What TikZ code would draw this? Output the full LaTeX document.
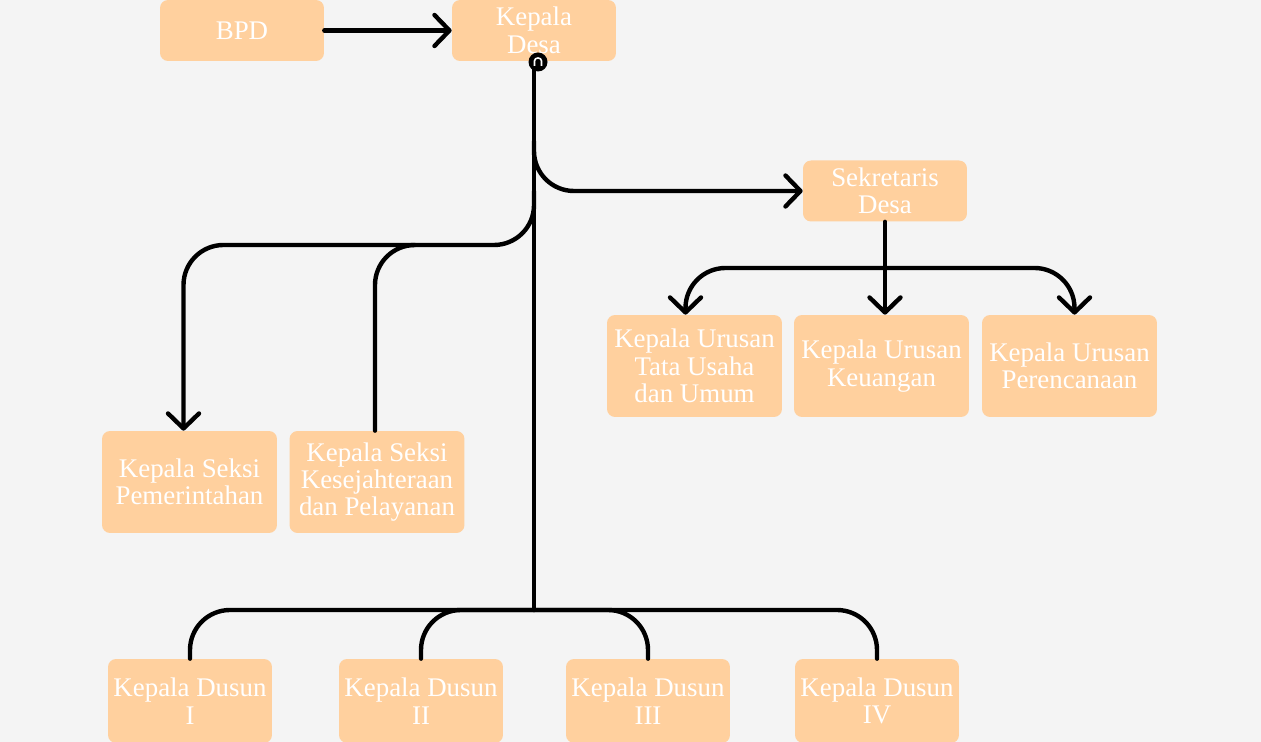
\documentclass[tikz,border=0pt]{standalone}
\usepackage{fontspec}
\setmainfont{Liberation Serif}
\usetikzlibrary{positioning, arrows.meta, calc}
\definecolor{bgcol}{HTML}{F4F4F4}
\definecolor{peach}{HTML}{FFD09E}

\begin{document}
\begin{tikzpicture}[x=0.02cm, y=-0.02cm,
    box/.style={fill=peach, rounded corners=0.16cm, text=white, align=center,
        font=\fontsize{15.3}{15.6}\selectfont, inner sep=0pt},
    smallbox/.style={box, minimum width=3.28cm, minimum height=1.22cm},
    bigbox/.style={box, minimum width=3.5cm, minimum height=2.04cm},
    dusunbox/.style={box, minimum width=3.28cm, minimum height=1.68cm},
    link/.style={line width=2.5pt, line cap=round, rounded corners=0.8cm},
    arr/.style={link, -{Straight Barb[length=0.3cm, width=0.62cm, round]}}
]
        % Background
        \fill[bgcol] (0,0) rectangle (1261,742);
        \useasboundingbox (0,0) rectangle (1261,742);

        % Top level
        \node[smallbox] (bpd) at (242,30.5) {BPD};
        \node[smallbox] (desa) at (534,30.5) {Kepala\\Desa};
        \node[smallbox] (sek) at (885,191) {Sekretaris\\Desa};

        % Kepala urusan
        \node[bigbox] (tata) at (694.5,366) {Kepala Urusan\\Tata Usaha\\dan Umum};
        \node[bigbox] (keu) at (881.5,366) {Kepala Urusan\\Keuangan};
        \node[bigbox] (ren) at (1069.5,366) {Kepala Urusan\\Perencanaan};

        % Kepala seksi
        \node[bigbox] (pem) at (189.5,482) {Kepala Seksi\\Pemerintahan};
        \node[bigbox] (kes) at (377,482) {Kepala Seksi\\Kesejahteraan\\dan Pelayanan};

        % Kepala dusun
        \node[dusunbox] (d1) at (190,701) {Kepala Dusun\\I};
        \node[dusunbox] (d2) at (421,701) {Kepala Dusun\\II};
        \node[dusunbox] (d3) at (648,701) {Kepala Dusun\\III};
        \node[dusunbox] (d4) at (877,701) {Kepala Dusun\\IV};

        \coordinate (hub) at (534,610);
        \coordinate (lbar) at (0,245);
        \coordinate (sbar) at (0,268);

        % Connectors
        \draw[arr] (bpd.east) -- (desa.west);
        \draw[link] (desa.south) -- (hub);
        \fill (538,62) circle (0.19cm);
        \draw[white, line width=0.9pt] (534.5,66) -- (534.5,61) .. controls (534.5,57) and (541.5,57) .. (541.5,61) -- (541.5,66);
        \draw[arr] ($(desa.south)+(0,80)$) |- (sek.west);
        \draw[arr] ($(desa.south)+(0,130)$) |- ($(pem.north |- lbar)+(-6,0)$) -- ($(pem.north)+(-6,0)$);
        \draw[link] ($(kes.north |- lbar)+(38,0)$) -| ($(kes.north)+(-2,0)$);

        \draw[arr] (sek.south) -- (sek.south |- keu.north);
        \draw[arr] (sek.south |- sbar) -| ($(tata.north)+(-9,0)$);
        \draw[arr] (sek.south |- sbar) -| ($(ren.north)+(5,0)$);

        \draw[link] (hub) -| (d1.north);
        \draw[link] (hub) -| (d2.north);
        \draw[link] (hub) -| (d3.north);
        \draw[link] (hub) -| (d4.north);
    \end{tikzpicture}
\end{document}
